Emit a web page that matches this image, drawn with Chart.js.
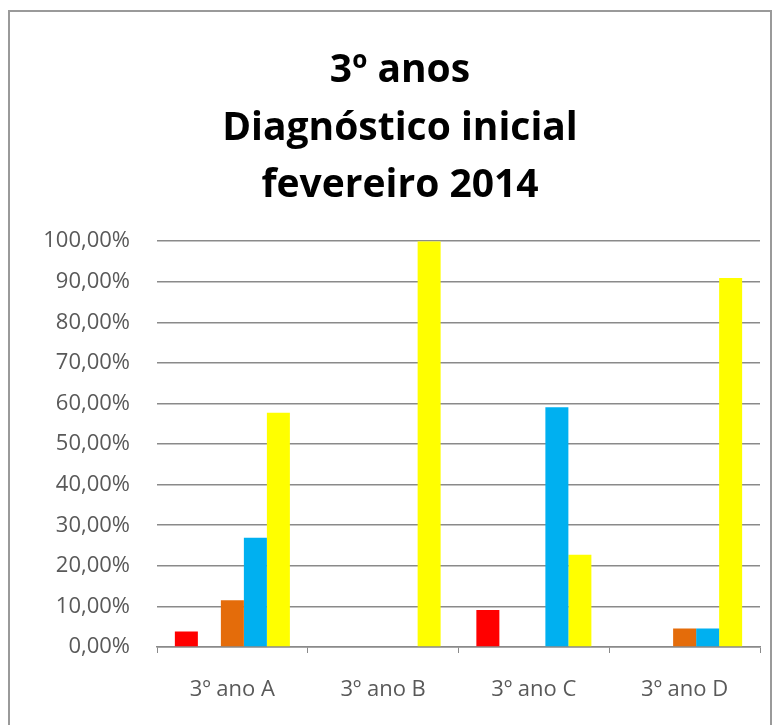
<!DOCTYPE html>
<html>
<head>
<meta charset="utf-8">
<script src="https://cdn.jsdelivr.net/npm/chart.js@4"></script>
<style>
  html, body { margin: 0; padding: 0; background: #fff; overflow: hidden; }
  #frame {
    position: absolute; left: 8px; top: 10px; width: 764px; height: 730px;
    border: 2px solid #9a9a9a; box-sizing: border-box;
  }
  #wrap { position: absolute; left: 0; top: 0; width: 777px; height: 725px; }
</style>
</head>
<body>
<div id="frame"></div>
<div id="wrap"><canvas id="diagChart" width="777" height="725"></canvas></div>
<script>
// Chart data (percent of pupils per class)
const categories = ['3º ano A', '3º ano B', '3º ano C', '3º ano D'];
const seriesNames = ['Série 1', 'Série 2', 'Série 3', 'Série 4', 'Série 5'];
const serie1 = [3.85, 0, 9.09, 0];
const serie2 = [0, 0, 0, 0];
const serie3 = [11.54, 0, 0, 4.55];
const serie4 = [26.92, 0, 59.09, 4.55];
const serie5 = [57.69, 100, 22.73, 90.91];
const seriesColors = ['#ff0000', '#92d050', '#e46c0a', '#00b0f0', '#ffff00'];
const titleLines = ['3º anos', 'Diagnóstico inicial', 'fevereiro 2014'];

const allSeries = [serie1, serie2, serie3, serie4, serie5];
const gridColor = '#8a8a8a';
const labelFont = { family: 'Open Sans', size: 22 };

const ctx = document.getElementById('diagChart');
const diagChart = new Chart(ctx.getContext('2d'), {
  type: 'bar',
  data: {
    labels: categories,
    datasets: allSeries.map((values, i) => ({
      label: seriesNames[i],
      data: values,
      backgroundColor: seriesColors[i],
      borderWidth: 0
    }))
  },
  options: {
    responsive: false,
    animation: false,
    datasets: {
      bar: { barPercentage: 1, categoryPercentage: 0.763 }
    },
    layout: {
      padding: { left: 40, right: 17, top: 0, bottom: 2 }
    },
    plugins: {
      legend: { display: false },
      tooltip: { enabled: false },
      title: {
        display: true,
        text: titleLines,
        color: '#000',
        font: { family: 'Open Sans', size: 39, weight: 'bold', lineHeight: 1.48 },
        padding: { top: 42, bottom: 26 }
      }
    },
    scales: {
      x: {
        afterFit: function(scale) { scale.height = 76; },
        grid: {
          offset: true,
          drawOnChartArea: false,
          tickLength: 6,
          color: gridColor
        },
        border: { color: gridColor, width: 1.5 },
        ticks: { color: '#595959', font: labelFont, padding: 24 }
      },
      y: {
        min: 0,
        max: 100,
        afterFit: function(scale) { scale.width = 117; },
        grid: { color: gridColor, lineWidth: 1.5, drawTicks: false },
        border: { display: false },
        ticks: {
          stepSize: 10,
          color: '#595959',
          font: labelFont,
          padding: 27,
          callback: function(value) {
            return value.toFixed(2).replace('.', ',') + '%';
          }
        }
      }
    }
  }
});
</script>
</body>
</html>
